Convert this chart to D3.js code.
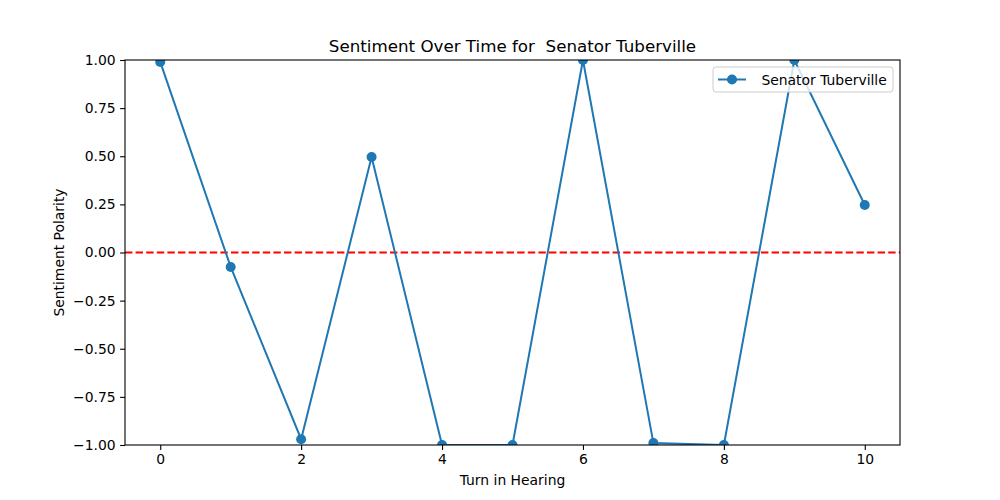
<!DOCTYPE html>
<html>
<head>
<meta charset="utf-8">
<script src="https://cdn.jsdelivr.net/npm/d3@7"></script>
<style>
  body { margin: 0; background: #fff; }
  text { font-family: "DejaVu Sans", sans-serif; fill: #000; }
</style>
</head>
<body>
<div id="chart"></div>
<script>
// data
var turns = [0, 1, 2, 3, 4, 5, 6, 7, 8, 9, 10];
var polarity = [0.99, -0.075, -0.97, 0.496, -1.0, -1.0, 1.0, -0.99, -1.0, 1.0, 0.247];
var xTicks = [0, 2, 4, 6, 8, 10];
var yTicks = [-1.0, -0.75, -0.5, -0.25, 0.0, 0.25, 0.5, 0.75, 1.0];
var speaker = " Senator Tuberville";

var W = 1000, H = 500;
var margin = {top: 60, right: 100, bottom: 55, left: 125},
    width = W - margin.left - margin.right,
    height = H - margin.top - margin.bottom;

var svg = d3.select("#chart").append("svg")
    .attr("width", W)
    .attr("height", H);

var g = svg.append("g")
    .attr("transform", "translate(" + margin.left + "," + margin.top + ")");

var x = d3.scaleLinear().domain([-0.5, 10.5]).range([0, width]);
var y = d3.scaleLinear().domain([-1, 1]).range([height, 0]);

g.append("clipPath").attr("id", "clip")
  .append("rect").attr("width", width).attr("height", height);

// zero line
g.append("line")
    .attr("clip-path", "url(#clip)")
    .attr("x1", 0).attr("x2", width)
    .attr("y1", y(0)).attr("y2", y(0))
    .attr("stroke", "red")
    .attr("stroke-width", 2)
    .attr("stroke-dasharray", "7.4,3.2");

var data = turns.map(function(t, i) { return {t: t, v: polarity[i]}; });

var plot = g.append("g").attr("clip-path", "url(#clip)");
plot.append("path")
    .datum(data)
    .attr("fill", "none")
    .attr("stroke", "#1f77b4")
    .attr("stroke-width", 2)
    .attr("d", d3.line().x(function(d) { return x(d.t); }).y(function(d) { return y(d.v); }));

plot.selectAll("circle")
    .data(data)
    .enter().append("circle")
    .attr("cx", function(d) { return x(d.t); })
    .attr("cy", function(d) { return y(d.v); })
    .attr("r", 5)
    .attr("fill", "#1f77b4");

// axes
var xAxis = g.append("g")
    .attr("transform", "translate(0," + height + ")")
    .call(d3.axisBottom(x).tickValues(xTicks).tickSize(4.9).tickPadding(4.5).tickFormat(d3.format("d")));
var yAxis = g.append("g")
    .call(d3.axisLeft(y).tickValues(yTicks).tickSize(4.9).tickPadding(4.5).tickFormat(d3.format(".2f")));

[xAxis, yAxis].forEach(function(a) {
  a.selectAll("text").attr("font-size", "13.9px").attr("font-family", "DejaVu Sans");
  a.selectAll(".tick line").attr("stroke-width", 1.1);
  a.select(".domain").remove();
});
yAxis.selectAll("text").text(function(d) { return d3.format(".2f")(d).replace("-", "\u2212"); });

// frame
g.append("rect")
    .attr("width", width).attr("height", height)
    .attr("fill", "none").attr("stroke", "#000").attr("stroke-width", 1.1);

// labels
svg.append("text")
    .attr("x", margin.left + width / 2).attr("y", 52)
    .attr("text-anchor", "middle")
    .attr("font-size", "16.7px")
    .style("white-space", "pre")
    .text("Sentiment Over Time for  Senator Tuberville");

svg.append("text")
    .attr("x", margin.left + width / 2).attr("y", 485)
    .attr("text-anchor", "middle")
    .attr("font-size", "13.9px")
    .text("Turn in Hearing");

svg.append("text")
    .attr("transform", "translate(64," + (margin.top + height / 2) + ") rotate(-90)")
    .attr("text-anchor", "middle")
    .attr("font-size", "13.9px")
    .text("Sentiment Polarity");

// legend
var lg = svg.append("g").attr("transform", "translate(713,67)");
lg.append("rect")
    .attr("width", 180).attr("height", 25)
    .attr("rx", 3)
    .attr("fill", "#fff").attr("fill-opacity", 0.8)
    .attr("stroke", "#ccc").attr("stroke-width", 1);
lg.append("line")
    .attr("x1", 5).attr("x2", 33).attr("y1", 12.5).attr("y2", 12.5)
    .attr("stroke", "#1f77b4").attr("stroke-width", 2);
lg.append("circle").attr("cx", 19).attr("cy", 12.5).attr("r", 5).attr("fill", "#1f77b4");
lg.append("text")
    .attr("x", 44).attr("y", 17.5)
    .attr("font-size", "13.9px")
    .style("white-space", "pre")
    .text(speaker);
</script>
</body>
</html>
